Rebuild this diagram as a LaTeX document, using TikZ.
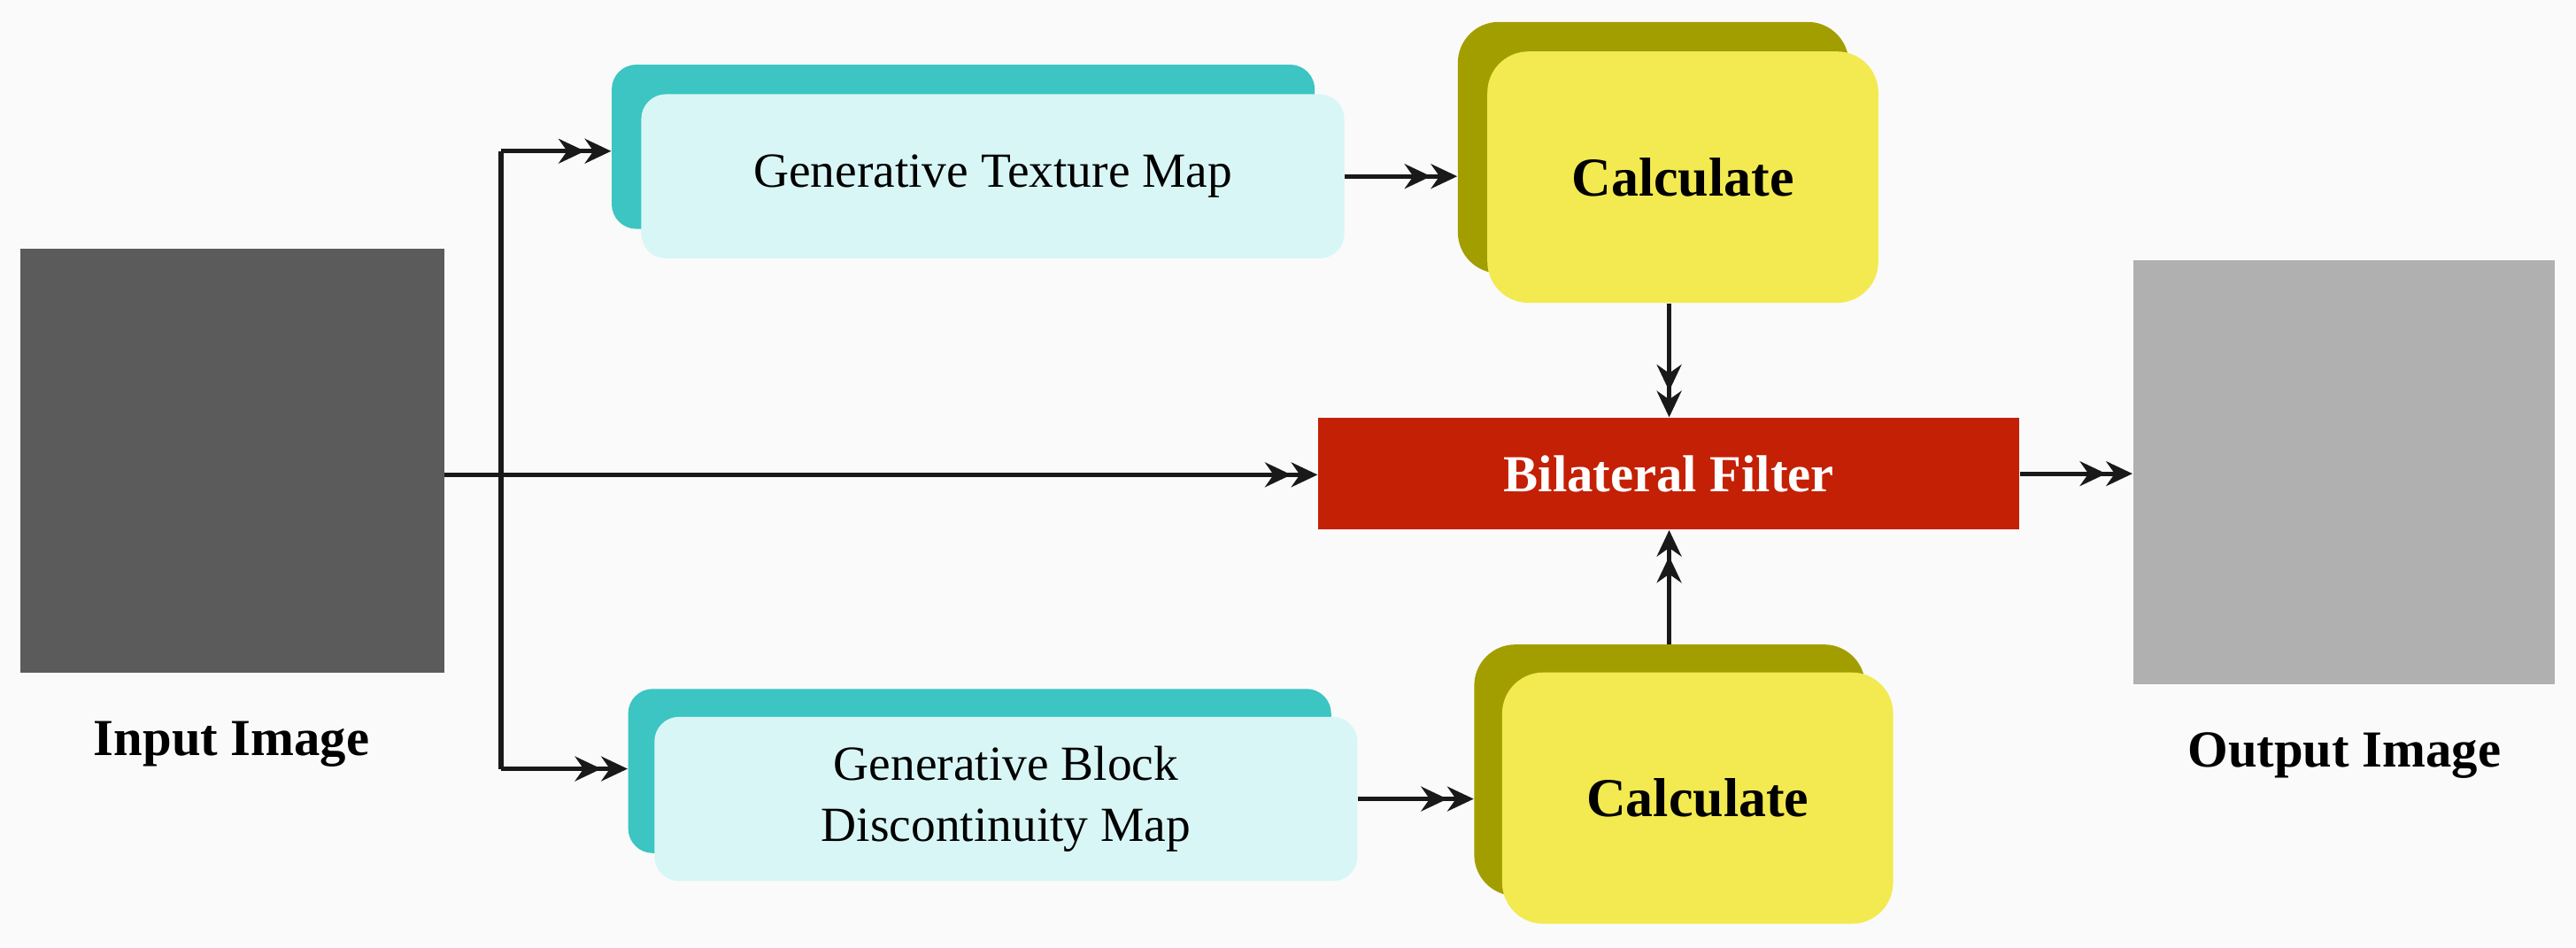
\documentclass[tikz,border=0pt]{standalone}
\usepackage{fontspec}
\setmainfont{Liberation Serif}
\usetikzlibrary{arrows.meta, calc}
\definecolor{bgc}{HTML}{FAFAFA}
\definecolor{darkimg}{HTML}{5B5B5B}
\definecolor{lightimg}{HTML}{B0B0B0}
\definecolor{tealc}{HTML}{3CC5C2}
\definecolor{cyanc}{HTML}{D9F6F6}
\definecolor{olivec}{HTML}{A39E00}
\definecolor{yellowc}{HTML}{F2EA50}
\definecolor{redc}{HTML}{C42005}
\begin{document}
\begin{tikzpicture}[
    x=0.02cm, y=-0.02cm,
    box/.style={rectangle, anchor=north west, inner sep=0pt},
    mapback/.style={box, fill=tealc, rounded corners=0.3cm, minimum width=8.56cm, minimum height=2cm},
    mapfront/.style={box, fill=cyanc, rounded corners=0.3cm, minimum width=8.56cm, minimum height=2cm,
        font=\fontsize{17}{21}\selectfont, align=center},
    calcback/.style={box, fill=olivec, rounded corners=0.5cm, minimum width=4.76cm, minimum height=3.06cm},
    calcfront/.style={box, fill=yellowc, rounded corners=0.5cm, minimum width=4.76cm, minimum height=3.06cm,
        font=\fontsize{19}{23}\selectfont\bfseries},
    lbl/.style={font=\fontsize{18}{22}\selectfont\bfseries},
    arrow/.style={-{Stealth[length=3.2mm,width=3mm]Stealth[length=3.2mm,width=3mm]}, line width=1.6pt, black!90}
]
    % background
    \fill[bgc] (0,0) rectangle (1568,577);

    % images
    \node[box, fill=darkimg, minimum width=5.16cm, minimum height=5.16cm] (in) at (12,151) {};
    \node[lbl] (inlbl) at (141,453) {Input Image};
    \node[box, fill=lightimg, minimum width=5.14cm, minimum height=5.16cm] (out) at (1298,158) {};
    \node[lbl] (outlbl) at (1427,460) {Output Image};

    % map boxes
    \node[mapback] (texb) at (372,39) {};
    \node[mapfront] (tex) at (390,57) {Generative Texture Map};
    \node[mapback] (blkb) at (382,419) {};
    \node[mapfront, minimum width=8.56cm] (blk) at (398,436) {Generative Block\\Discontinuity Map};

    % calculate boxes
    \node[calcback] (c1b) at (887,13) {};
    \node[calcfront] (c1) at (905,31) {Calculate};
    \node[calcback] (c2b) at (897,392) {};
    \node[calcfront] (c2) at (914,409) {Calculate};

    % filter
    \node[box, fill=redc, minimum width=8.54cm, minimum height=1.36cm,
        font=\fontsize{18}{22}\selectfont\bfseries, text=white] (bf) at (802,254) {Bilateral Filter};

    % connectors
    \coordinate (split) at (305,289);
    \coordinate (top) at (305,92);
    \coordinate (bot) at (305,468);
    \draw[arrow] (in.east |- split) -- (bf.west |- split);
    \draw[line width=1.6pt, black!90] (top) -- (bot);
    \draw[arrow] (top) -- (texb.west |- top);
    \draw[arrow] (bot) -- (blkb.west |- bot);
    \draw[arrow] (tex.east) -- (c1b.west |- tex.east);
    \draw[arrow] (blk.east) -- (c2b.west |- blk.east);
    \draw[arrow] (c1.south -| 1016,0) -- (bf.north -| 1016,0);
    \draw[arrow] (c2b.north -| 1016,0) -- (bf.south -| 1016,0);
    \draw[arrow] (bf.east) -- (out.west |- bf.east);
\end{tikzpicture}
\end{document}
